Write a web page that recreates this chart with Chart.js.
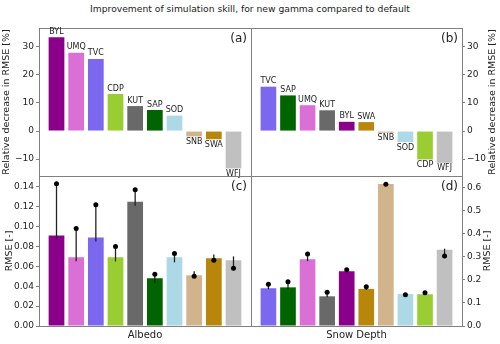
<!DOCTYPE html>
<html>
<head>
<meta charset="utf-8">
<script src="https://cdn.jsdelivr.net/npm/chart.js@4.4.1/dist/chart.umd.min.js"></script>
<style>
body { margin: 0; background: #fff; }
#wrap { position: relative; width: 500px; height: 344px; }
#wrap canvas { position: absolute; left: 0; top: 0; }
#title { position: absolute; left: 0; top: 3px; width: 500px; text-align: center;
         font: 9.2px 'DejaVu Sans'; color: #222; }
</style>
</head>
<body>
<div id="wrap">
<div id="title">Improvement of simulation skill, for new gamma compared to default</div>
<canvas id="chartA" width="500" height="344"></canvas>
<canvas id="chartB" width="500" height="344"></canvas>
<canvas id="chartC" width="500" height="344"></canvas>
<canvas id="chartD" width="500" height="344"></canvas>
</div>
<script>
// albedo panels (a) and (c)
const stationsAlbedo = ['BYL', 'UMQ', 'TVC', 'CDP', 'KUT', 'SAP', 'SOD', 'SNB', 'SWA', 'WFJ'];
const decreaseAlbedo = [33.4, 27.9, 25.7, 13.2, 8.9, 7.5, 5.5, -1.9, -2.9, -13.3];
const rmseAlbedo = [0.091, 0.069, 0.089, 0.069, 0.125, 0.048, 0.069, 0.051, 0.068, 0.066];
const rmseAlbedoDefault = [0.143, 0.098, 0.122, 0.080, 0.137, 0.052, 0.073, 0.050, 0.066, 0.058];
const rangeAlbedoLow = [0.087, 0.065, 0.085, 0.065, 0.121, 0.043, 0.064, 0.050, 0.066, 0.058];
const rangeAlbedoHigh = [0.143, 0.098, 0.122, 0.080, 0.137, 0.052, 0.073, 0.055, 0.072, 0.070];

// snow depth panels (b) and (d)
const stationsSnow = ['TVC', 'SAP', 'UMQ', 'KUT', 'BYL', 'SWA', 'SNB', 'SOD', 'CDP', 'WFJ'];
const decreaseSnow = [15.8, 12.7, 9.2, 7.4, 3.3, 3.2, -0.6, -3.9, -10.1, -11.3];
const rmseSnow = [0.164, 0.168, 0.290, 0.129, 0.238, 0.161, 0.617, 0.139, 0.138, 0.331];
const rmseSnowDefault = [0.182, 0.192, 0.313, 0.147, 0.245, 0.171, 0.616, 0.136, 0.145, 0.304];
const rangeSnowLow = [0.160, 0.160, 0.282, 0.125, 0.238, 0.157, 0.616, 0.136, 0.138, 0.304];
const rangeSnowHigh = [0.182, 0.192, 0.313, 0.147, 0.245, 0.172, 0.618, 0.140, 0.146, 0.336];

// tick labels
const ticksDecrease = [-10, 0, 10, 20, 30];
const ticksAlbedo = [0, 0.02, 0.04, 0.06, 0.08, 0.10, 0.12, 0.14];
const ticksSnow = [0, 0.1, 0.2, 0.3, 0.4, 0.5, 0.6];

const stationColors = {
    BYL: '#8B008B', UMQ: '#DA70D6', TVC: '#7B68EE', CDP: '#9ACD32', KUT: '#696969',
    SAP: '#006400', SOD: '#ADD8E6', SNB: '#D2B48C', SWA: '#B8860B', WFJ: '#C0C0C0'
};
const spineColor = '#808080';
const textColor = '#222';
const fontFamily = "'DejaVu Sans', sans-serif";

Chart.defaults.font.family = fontFamily;
Chart.defaults.color = textColor;

function points(values) { return values.map((v, i) => ({x: i, y: v})); }
function ranges(lo, hi) { return lo.map((v, i) => ({x: i, y: [v, hi[i]]})); }

const framePlugin = {
    id: 'frame',
    afterDatasetsDraw(chart) {
        const a = chart.chartArea, ctx = chart.ctx;
        ctx.save();
        ctx.strokeStyle = spineColor;
        ctx.lineWidth = 1;
        ctx.strokeRect(a.left + 0.5, a.top + 0.5, a.right - a.left, a.bottom - a.top);
        ctx.restore();
    },
    afterDraw(chart, args, opts) {
        const a = chart.chartArea, ctx = chart.ctx;
        ctx.save();
        ctx.fillStyle = textColor;
        ctx.font = '12px ' + fontFamily;
        ctx.textAlign = 'right';
        ctx.textBaseline = 'top';
        ctx.fillText(opts.letter, a.right - 4, a.top + 5);
        // y axis title, read bottom to top on both sides
        ctx.translate(opts.titleX, (a.top + a.bottom) / 2);
        ctx.rotate(-Math.PI / 2);
        ctx.font = '9.5px ' + fontFamily;
        ctx.textAlign = 'center';
        ctx.textBaseline = 'middle';
        ctx.fillText(opts.yTitle, 0, 0);
        ctx.restore();
    }
};

const barLabelPlugin = {
    id: 'barLabels',
    afterDatasetsDraw(chart, args, opts) {
        if (!opts.labels) return;
        const ctx = chart.ctx;
        const meta = chart.getDatasetMeta(0);
        const values = chart.data.datasets[0].data;
        ctx.save();
        ctx.fillStyle = textColor;
        ctx.font = '8px ' + fontFamily;
        ctx.textAlign = 'center';
        meta.data.forEach((bar, i) => {
            if (values[i].y >= 0) {
                ctx.textBaseline = 'bottom';
                ctx.fillText(opts.labels[i], bar.x, bar.y - 1.5);
            } else {
                ctx.textBaseline = 'top';
                ctx.fillText(opts.labels[i], bar.x, bar.y + 1.5);
            }
        });
        ctx.restore();
    }
};

function minusFormat(v, digits) {
    const s = Math.abs(v).toFixed(digits);
    return v < 0 ? '\u2212' + s : s;
}

function xAxis(title) {
    return {
        type: 'linear', min: -0.89, max: 9.89, offset: false,
        display: !!title,
        grid: {display: false}, border: {display: false},
        ticks: {display: false},
        title: {display: !!title, text: title || '', color: textColor,
                font: {size: 10}, padding: {top: 0, bottom: 3}},
        afterFit: s => { s.height = title ? 18 : 0; }
    };
}

function yAxis(position, min, max, tickValues, digits, width) {
    return {
        position: position, min: min, max: max,
        grid: {display: true, drawOnChartArea: false, drawTicks: true, tickLength: 3, color: spineColor},
        border: {display: false},
        ticks: {font: {size: 9}, color: textColor, padding: 2,
                callback: v => minusFormat(v, digits)},
        afterBuildTicks: s => { s.ticks = tickValues.map(v => ({value: v})); },
        afterFit: s => { s.width = width; }
    };
}

function makeChart(id, cfg) {
    const barColors = cfg.stations.map(s => stationColors[s]);
    const datasets = [];
    if (cfg.dots) {
        datasets.push({
            type: 'scatter',
            data: points(cfg.dots),
            backgroundColor: '#000',
            borderWidth: 0,
            pointRadius: 2.5,
            order: 0
        });
        datasets.push({
            type: 'bar',
            data: ranges(cfg.low, cfg.high),
            backgroundColor: '#222',
            grouped: false,
            maxBarThickness: 1.3,
            order: 1
        });
    }
    datasets.unshift({
        type: 'bar',
        data: points(cfg.values),
        backgroundColor: barColors,
        grouped: false,
        categoryPercentage: 1,
        barPercentage: 0.8,
        order: 2
    });

    return new Chart(document.getElementById(id), {
        type: 'bar',
        data: {datasets: datasets},
        options: {
            responsive: false,
            animation: false,
            devicePixelRatio: 1,
            events: [],
            layout: {padding: cfg.padding},
            scales: {
                x: xAxis(cfg.xTitle),
                y: yAxis(cfg.yPos, cfg.yMin, cfg.yMax, cfg.ticks, cfg.digits, cfg.yPos === 'left' ? 39 : 38)
            },
            plugins: {
                legend: {display: false},
                tooltip: {enabled: false},
                frame: {letter: cfg.letter, yTitle: cfg.yTitle, titleX: cfg.titleX},
                barLabels: {labels: cfg.dots ? null : cfg.stations}
            }
        },
        plugins: [framePlugin, barLabelPlugin]
    });
}

makeChart('chartA', {
    stations: stationsAlbedo, values: decreaseAlbedo,
    padding: {left: 0, top: 28, right: 249, bottom: 168},
    yPos: 'left', yMin: -16, yMax: 36.7, ticks: ticksDecrease, digits: 0,
    letter: '(a)', yTitle: 'Relative decrease in RMSE [%]', titleX: 7
});

makeChart('chartB', {
    stations: stationsSnow, values: decreaseSnow,
    padding: {left: 251, top: 28, right: 0, bottom: 168},
    yPos: 'right', yMin: -16, yMax: 36.7, ticks: ticksDecrease, digits: 0,
    letter: '(b)', yTitle: 'Relative decrease in RMSE [%]', titleX: 493
});

makeChart('chartC', {
    stations: stationsAlbedo, values: rmseAlbedo,
    dots: rmseAlbedoDefault, low: rangeAlbedoLow, high: rangeAlbedoHigh,
    padding: {left: 0, top: 176, right: 249, bottom: 0},
    xTitle: 'Albedo',
    yPos: 'left', yMin: 0, yMax: 0.1508, ticks: ticksAlbedo, digits: 2,
    letter: '(c)', yTitle: 'RMSE [-]', titleX: 10
});

makeChart('chartD', {
    stations: stationsSnow, values: rmseSnow,
    dots: rmseSnowDefault, low: rangeSnowLow, high: rangeSnowHigh,
    padding: {left: 251, top: 176, right: 0, bottom: 0},
    xTitle: 'Snow Depth',
    yPos: 'right', yMin: 0, yMax: 0.652, ticks: ticksSnow, digits: 1,
    letter: '(d)', yTitle: 'RMSE [-]', titleX: 488
});
</script>
</body>
</html>
